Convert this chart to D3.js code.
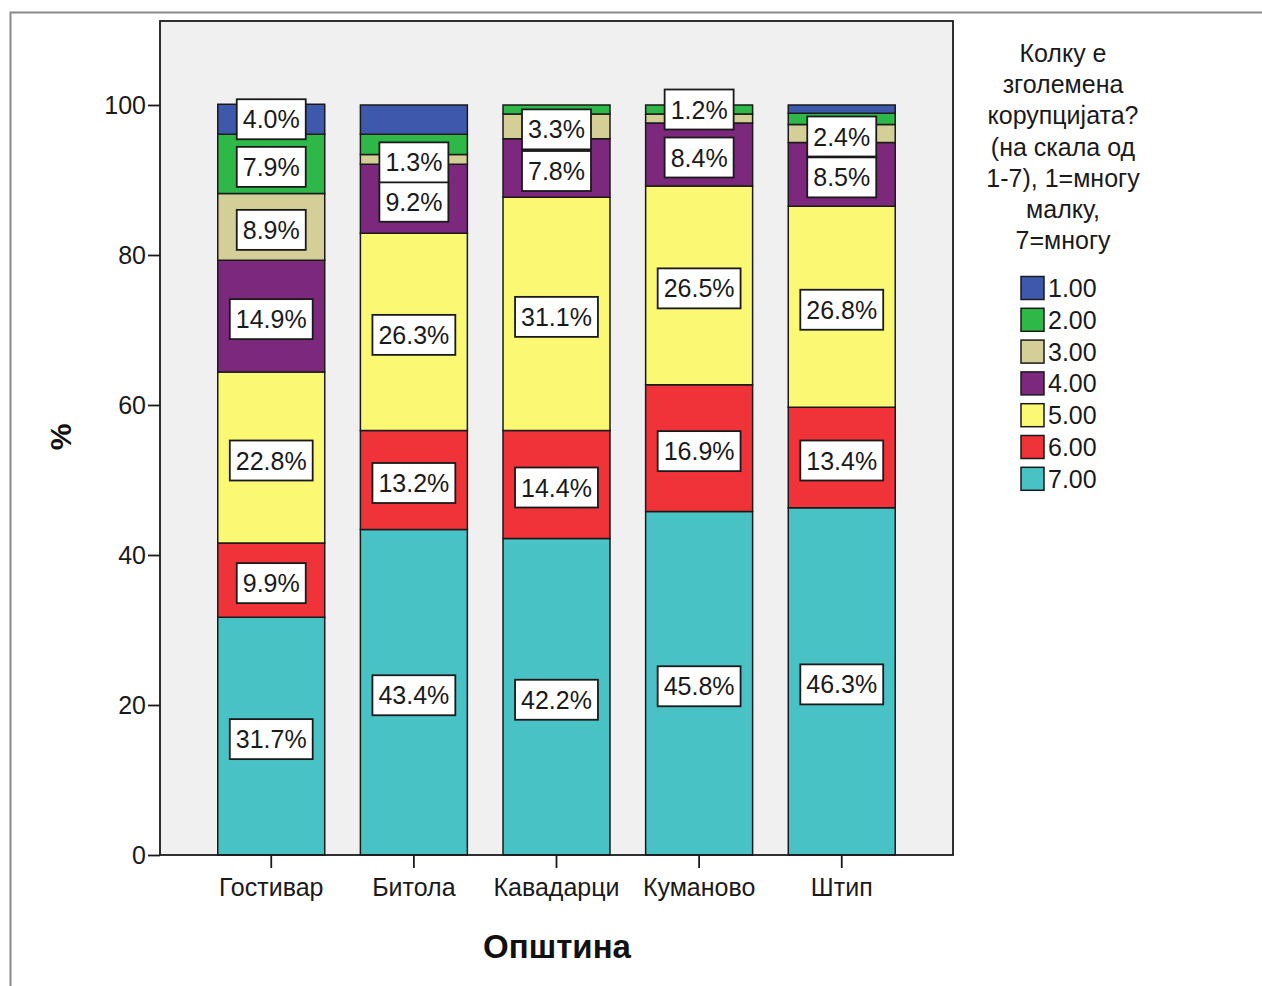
<!DOCTYPE html>
<html><head><meta charset="utf-8">
<script src="https://cdn.jsdelivr.net/npm/d3@7"></script>
<style>
body{margin:0;background:#fff;}
svg{display:block;font-family:"Liberation Sans",Arial,sans-serif;}
</style></head>
<body><svg id="c" width="1262" height="986"></svg>
<script>
const categories = ["Гостивар","Битола","Кавадарци","Куманово","Штип"];
const seriesKeys = ["1.00","2.00","3.00","4.00","5.00","6.00","7.00"];
const seriesColors = ["#3e58ac","#2eb848","#d4cf97","#7c287d","#fbf873","#ef3338","#48c2c5"];
// percentages per series, in category order
const s1 = [4.0, 3.9, 0.0, 0.0, 1.1];
const s2 = [7.9, 2.7, 1.2, 1.2, 1.5];
const s3 = [8.9, 1.3, 3.3, 1.2, 2.4];
const s4 = [14.9, 9.2, 7.8, 8.4, 8.5];
const s5 = [22.8, 26.3, 31.1, 26.5, 26.8];
const s6 = [9.9, 13.2, 14.4, 16.9, 13.4];
const s7 = [31.7, 43.4, 42.2, 45.8, 46.3];
// which segments carry a value label in the original
const show1 = [1,0,0,0,0];
const show2 = [1,0,0,1,0];
const show3 = [1,1,1,0,1];
const show4 = [1,1,1,1,1];
const show5 = [1,1,1,1,1];
const show6 = [1,1,1,1,1];
const show7 = [1,1,1,1,1];
const yTicks = [0,20,40,60,80,100];
const legendTitle = ["Колку е","зголемена","корупцијата?","(на скала од","1-7), 1=многу","малку,","7=многу"];
const xTitle = "Општина", yTitle = "%";

const seriesVals = [s1,s2,s3,s4,s5,s6,s7];
const seriesShow = [show1,show2,show3,show4,show5,show6,show7];

const svg = d3.select("#c");
const L=160, T=21, R=953, B=855;
// outer frame
svg.append("rect").attr("x",10.5).attr("y",12.5).attr("width",1400).attr("height",1100)
  .attr("fill","none").attr("stroke","#8a8a8a").attr("stroke-width",2);

const x = d3.scaleBand().domain(categories).range([L,R]).paddingInner(0.25).paddingOuter(0.405);
const y = d3.scaleLinear().domain([0,111.2]).range([B,T]);

svg.append("rect").attr("x",L).attr("y",T).attr("width",R-L).attr("height",B-T)
  .attr("fill","#f0f0f0");

// stack: 7 at bottom ... 1 on top
const rows = categories.map((c,i)=>{const o={cat:c}; seriesKeys.forEach((k,j)=>o[k]=seriesVals[j][i]); return o;});
const stackOrder = seriesKeys.slice().reverse();
const stacked = d3.stack().keys(stackOrder)(rows);

const g = svg.append("g");
stacked.forEach(layer=>{
  const j = seriesKeys.indexOf(layer.key);
  layer.forEach((d,i)=>{
    if (d[1]-d[0] <= 0) return;
    g.append("rect").attr("x",x(categories[i])).attr("width",x.bandwidth())
      .attr("y",y(d[1])).attr("height",y(d[0])-y(d[1]))
      .attr("fill",seriesColors[j]).attr("stroke","#1a1a1a").attr("stroke-width",1.5);
  });
});
// labels
const lg = svg.append("g");
stacked.forEach(layer=>{
  const j = seriesKeys.indexOf(layer.key);
  layer.forEach((d,i)=>{
    if (!seriesShow[j][i]) return;
    const v = seriesVals[j][i];
    const cx = x(categories[i]) + x.bandwidth()/2;
    const cy = y((d[0]+d[1])/2) + (i===3 && j===1 ? 0 : (j===0 ? 0 : 3));
    const t = lg.append("text").attr("x",cx).attr("y",cy).attr("dy","0.36em")
      .attr("text-anchor","middle").attr("font-size",25).attr("fill","#1a1a1a")
      .text(v.toFixed(1)+"%");
    const w = t.node().getComputedTextLength();
    lg.insert("rect", function(){return t.node();})
      .attr("x",cx-w/2-6).attr("y",cy-20).attr("width",w+12).attr("height",40)
      .attr("fill","#fff").attr("stroke","#1a1a1a").attr("stroke-width",1.8);
  });
});

// frame of plot
svg.append("rect").attr("x",L).attr("y",T).attr("width",R-L).attr("height",B-T)
  .attr("fill","none").attr("stroke","#1a1a1a").attr("stroke-width",1.8);

// axes
const ya = svg.append("g").attr("transform",`translate(${L},0)`)
  .call(d3.axisLeft(y).tickValues(yTicks).tickSize(12).tickPadding(2).tickFormat(d3.format("d")));
ya.select(".domain").remove();
ya.selectAll("line").attr("stroke","#1a1a1a").attr("stroke-width",1.8);
ya.selectAll("text").attr("font-size",25).attr("fill","#1a1a1a").attr("font-family","Liberation Sans, Arial, sans-serif");

const xa = svg.append("g").attr("transform",`translate(0,${B})`)
  .call(d3.axisBottom(x).tickSize(13).tickPadding(10));
xa.select(".domain").remove();
xa.selectAll("line").attr("stroke","#1a1a1a").attr("stroke-width",1.8);
xa.selectAll("text").attr("font-size",25).attr("fill","#1a1a1a").attr("font-family","Liberation Sans, Arial, sans-serif");

// axis titles
svg.append("text").attr("x",557).attr("y",946).attr("dy","0.36em").attr("text-anchor","middle")
  .attr("font-size",33).attr("font-weight","bold").attr("fill","#111").text(xTitle);
svg.append("text").attr("transform","translate(60,437) rotate(-90)").attr("dy","0.36em")
  .attr("text-anchor","middle").attr("font-size",30).attr("font-weight","bold").attr("fill","#111").text(yTitle);

// legend
const leg = svg.append("g");
legendTitle.forEach((s,i)=>{
  leg.append("text").attr("x",1063).attr("y",53+i*31.2).attr("dy","0.36em").attr("text-anchor","middle")
    .attr("font-size",25).attr("fill","#1a1a1a").text(s);
});
seriesKeys.forEach((k,i)=>{
  const cy = 288 + i*31.8;
  leg.append("rect").attr("x",1021).attr("y",cy-11.5).attr("width",23).attr("height",23)
    .attr("fill",seriesColors[i]).attr("stroke","#1a1a1a").attr("stroke-width",1.5);
  leg.append("text").attr("x",1048).attr("y",cy).attr("dy","0.36em").attr("font-size",25)
    .attr("fill","#1a1a1a").text(k);
});
</script></body></html>
